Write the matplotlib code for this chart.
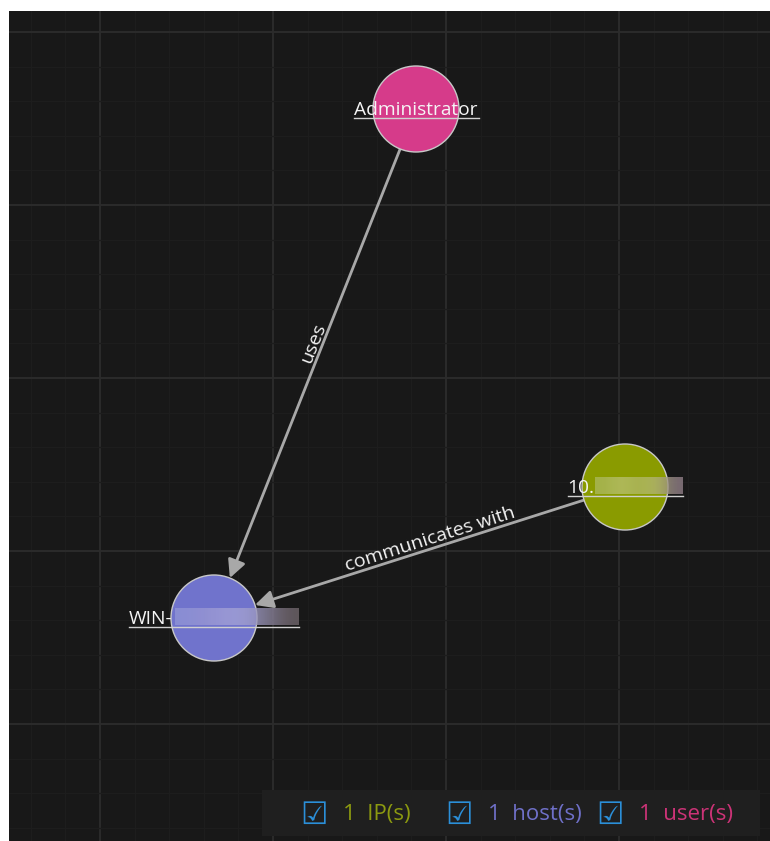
import numpy as np
import matplotlib.pyplot as plt
from matplotlib.patches import Circle, Rectangle, FancyArrowPatch
from matplotlib.colors import to_rgb

plt.rcParams['font.family'] = ['Open Sans', 'DejaVu Sans']

# graph data (pixel space of the screenshot)
node_names = ['Administrator', '10.', 'WIN-']
node_types = ['user', 'IP', 'host']
node_x = [416, 625, 214]
node_y = [109, 487, 618]
edge_src = [0, 1]
edge_dst = [2, 2]
edge_labels = ['uses', 'communicates with']

legend_types = ['IP', 'host', 'user']
legend_counts = [1, 1, 1]
legend_labels = ['IP(s)', 'host(s)', 'user(s)']

node_colors = {'user': '#d63b8a', 'IP': '#8a9b00', 'host': '#7073cc'}
legend_colors = {'user': '#cc3377', 'IP': '#8c9a10', 'host': '#6f70c8'}
# redacted part of labels: full label width and blur colours
label_width = {'Administrator': None, '10.': 115, 'WIN-': 170}
blur_cols = {'10.': ['#aab75a', '#bcc474', '#acb55e', '#b9bd78', '#8f7c88'],
             'WIN-': ['#9094d6', '#9d99d2', '#a6a6dc', '#9a96ba', '#6f6469']}

R = 43

fig = plt.figure(figsize=(7.7, 8.41), dpi=100)
fig.patch.set_facecolor('white')
ax = fig.add_axes([9 / 770, 0, 761 / 770, 830 / 841])
ax.set_facecolor('#181818')
ax.set_xlim(9, 770)
ax.set_ylim(841, 11)

step = 173
ax.set_xticks(np.arange(100 - step, 780, step))
ax.set_yticks(np.arange(32, 850, step))
ax.set_xticks(np.arange(100 - step, 780, step / 5), minor=True)
ax.set_yticks(np.arange(32 - step, 850, step / 5), minor=True)
ax.grid(which='major', color='#2c2c2c', lw=1.3)
ax.grid(which='minor', color='#1d1d1d', lw=1.0)
ax.tick_params(which='both', length=0, labelbottom=False, labelleft=False)
ax.set_axisbelow(True)
for s in ax.spines.values():
    s.set_visible(False)

# edges
for src, dst, lab in zip(edge_src, edge_dst, edge_labels):
    x1, y1 = node_x[src], node_y[src]
    x2, y2 = node_x[dst], node_y[dst]
    d = np.hypot(x2 - x1, y2 - y1)
    ux, uy = (x2 - x1) / d, (y2 - y1) / d
    a = (x1 + ux * R, y1 + uy * R)
    b = (x2 - ux * R, y2 - uy * R)
    ax.add_patch(FancyArrowPatch(a, b, arrowstyle='-|>', mutation_scale=27,
                                 color='#a8a8a8', lw=2.0, shrinkA=0, shrinkB=0,
                                 zorder=2))
    ang = np.degrees(np.arctan2(-(y2 - y1), x2 - x1))
    if ang > 90:
        ang -= 180
    elif ang <= -90:
        ang += 180
    mx = b[0] + 0.54 * (a[0] - b[0])
    my = b[1] + 0.54 * (a[1] - b[1])
    ax.text(mx, my, lab, rotation=ang, rotation_mode='anchor',
            ha='center', va='bottom', color='#f2f2f2', fontsize=14, zorder=5)

# nodes
for name, typ, x, y in zip(node_names, node_types, node_x, node_y):
    ax.add_patch(Circle((x, y), R, facecolor=node_colors[typ],
                        edgecolor='#c8c8c8', lw=1.0, zorder=3))
    w = label_width[name]
    if w is None:
        ax.text(x, y + 1, name, ha='center', va='center', color='#f5f5f5',
                fontsize=13.8, zorder=6)
        ax.plot([x - 62, x + 63], [y + 9, y + 9], color='#d0d0d0', lw=1.0, zorder=6)
    else:
        x0 = x - w / 2
        ax.text(x0, y + 1, name, ha='left', va='center', color='#f5f5f5',
                fontsize=13.8, zorder=6)
        pre = 27 if name == '10.' else 46
        cols = np.array([to_rgb(c) for c in blur_cols[name]])[None, :, :]
        ax.imshow(cols, extent=(x0 + pre, x0 + w, y + 7, y - 10), aspect='auto',
                  interpolation='bicubic', alpha=0.8, zorder=5)
        ax.plot([x0, x0 + w], [y + 9, y + 9], color='#d0d0d0', lw=1.0, zorder=6)

ax.set_xlim(9, 770)
ax.set_ylim(841, 11)

# legend bar
ax.add_patch(Rectangle((262, 790), 498, 46, facecolor='#1f1f1f',
                       edgecolor='none', zorder=7))
box_x = [314, 459, 610]
for bx, typ, n, lab in zip(box_x, legend_types, legend_counts, legend_labels):
    ax.text(bx, 815, '\u2611', family='DejaVu Sans', fontsize=22,
            color='#2b8fd8', ha='center', va='center', zorder=8)
    ax.text(bx + 29, 815, f'{n}  {lab}', fontsize=16, color=legend_colors[typ],
            ha='left', va='center', zorder=8)

fig.savefig('out.png', dpi=100, facecolor='white')
